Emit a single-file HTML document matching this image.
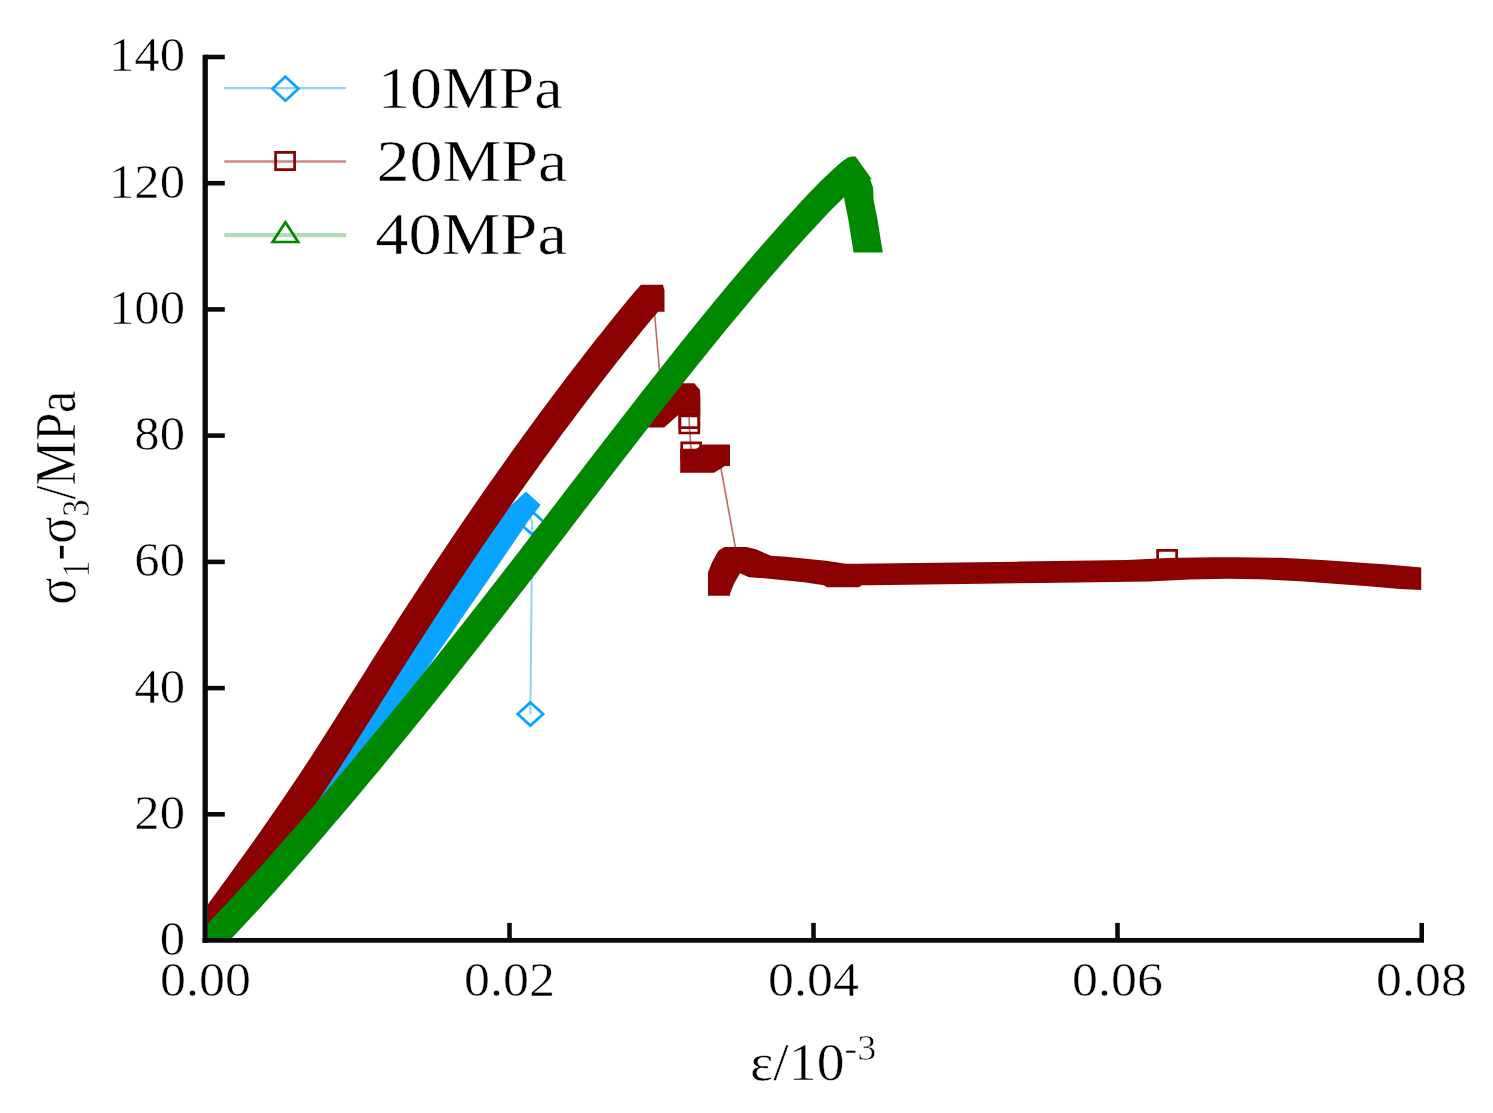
<!DOCTYPE html>
<html><head><meta charset="utf-8"><title>chart</title>
<style>html,body{margin:0;padding:0;background:#fff;}svg{display:block;}</style></head>
<body>
<svg width="1493" height="1113" viewBox="0 0 1493 1113">
<defs><clipPath id="cp"><rect x="208.0" y="57.0" width="1213.5" height="881.3"/></clipPath></defs>
<g clip-path="url(#cp)">
<polyline points="526.0,505.0 532.2,523.0 530.4,714.0" fill="none" stroke="#8fd2ff" stroke-width="2"/>
<path d="M312.4 787.1 L301.3 801.9 L290.3 816.5 L279.2 830.8 L268.2 845.0 L257.1 859.0 L246.1 872.8 L235.0 886.4 L224.0 899.7 L212.9 912.8 L208.0 918.5 L208.0 938.3 L220.1 938.3 L220.2 938.2 L231.3 925.6 L242.3 912.8 L253.4 899.7 L264.4 886.4 L275.5 872.8 L286.5 859.0 L297.6 845.0 L308.6 830.8 L319.7 816.5 L330.7 801.9 L341.8 787.1 L352.8 772.2 L363.9 757.1 L374.9 741.9 L386.0 726.6 L397.0 711.1 L408.1 695.5 L419.1 679.8 L430.2 664.0 L441.2 648.1 L452.3 632.2 L463.3 616.1 L474.4 600.1 L485.4 583.9 L496.5 567.8 L507.5 551.6 L518.6 535.3 L529.6 519.1 L540.7 505.0 L526.0 491.4 L511.3 505.0 L500.2 519.1 L489.2 535.3 L478.1 551.6 L467.1 567.8 L456.0 583.9 L445.0 600.1 L433.9 616.1 L422.9 632.2 L411.8 648.1 L400.8 664.0 L389.7 679.8 L378.7 695.5 L367.6 711.1 L356.6 726.6 L345.5 741.9 L334.5 757.1 L323.4 772.2Z" fill="#08a4ff"/>
<polygon points="532.2,511.4 544.9,523.0 532.2,534.6 519.5,523.0" fill="none" stroke="#08a4ff" stroke-width="2.7" stroke-linejoin="miter"/>
<polygon points="530.4,702.4 543.1,714.0 530.4,725.6 517.7,714.0" fill="none" stroke="#08a4ff" stroke-width="2.7" stroke-linejoin="miter"/>
<polyline points="651.9,294.9 653.5,301.0 659.6,372.0 653.2,416.7 688.8,400.0 689.3,424.4 691.2,451.4 719.0,455.2 721.1,469.0 735.3,547.0 719.0,585.0" fill="none" stroke="#c06a6a" stroke-width="1.6"/>
<path d="M656.8 393.0 L642.2 406.0 L642.2 427.4 L664.2 427.4 L678.8 414.4 L684.2 410.7 L699.8 410.7 L699.8 389.3 L698.2 388.0 L694.4 383.2 L672.4 383.2 L668.0 385.3Z M696.1 448.8 L680.2 448.8 L680.2 451.4 L680.2 472.8 L692.0 472.8 L702.2 472.8 L714.0 472.8 L725.0 465.9 L730.0 465.9 L730.0 444.5 L725.0 444.5 L703.0 444.5Z M708.0 574.3 L708.0 595.7 L730.0 595.7 L730.2 593.3 L734.0 583.7 L739.9 573.3 L749.0 577.2 L764.0 578.2 L804.0 582.2 L824.0 585.2 L827.0 587.2 L837.0 587.2 L849.0 587.2 L859.0 587.2 L861.8 585.3 L871.0 585.3 L1042.0 583.0 L1149.0 581.5 L1189.0 579.5 L1227.0 578.8 L1259.0 579.2 L1300.0 581.3 L1365.0 585.9 L1400.0 588.9 L1421.5 589.9 L1421.5 567.5 L1387.0 564.5 L1322.0 559.9 L1281.0 557.8 L1236.0 557.2 L1214.0 557.2 L1167.0 558.1 L1127.0 560.1 L1020.0 561.6 L856.4 563.8 L846.0 563.8 L826.0 560.8 L786.0 556.8 L771.0 555.8 L756.0 549.3 L746.5 547.0 L724.5 547.0 L718.6 550.6 L712.0 562.3 L708.2 571.9Z M274.3 811.6 L265.4 824.3 L256.6 836.9 L247.7 849.4 L238.8 861.7 L230.0 874.0 L221.1 886.2 L212.2 898.4 L208.0 904.2 L208.0 938.3 L220.7 938.3 L225.4 931.9 L234.2 919.8 L243.1 907.6 L252.0 895.4 L260.8 883.1 L269.7 870.8 L278.6 858.3 L287.4 845.7 L296.3 833.0 L305.2 820.0 L314.0 806.9 L322.9 793.6 L331.8 780.1 L340.6 766.4 L349.5 752.5 L358.4 738.5 L367.2 724.5 L376.1 710.4 L385.0 696.3 L393.8 682.2 L402.7 668.2 L411.6 654.3 L420.4 640.5 L429.3 626.7 L438.2 613.1 L447.1 599.6 L455.9 586.2 L464.8 572.9 L473.7 559.7 L482.5 546.6 L491.4 533.6 L500.3 520.7 L509.1 508.0 L518.0 495.3 L526.9 482.8 L535.7 470.4 L544.6 458.1 L553.5 445.9 L562.3 433.8 L571.2 421.9 L580.1 410.1 L588.9 398.4 L597.8 386.8 L606.7 375.3 L615.5 364.0 L624.4 352.8 L633.3 341.7 L642.1 330.8 L651.0 319.9 L658.1 311.7 L664.5 311.7 L664.5 290.3 L662.9 284.7 L640.9 284.7 L629.0 298.5 L620.1 309.4 L611.3 320.3 L602.4 331.4 L593.5 342.6 L584.7 353.9 L575.8 365.4 L566.9 377.0 L558.1 388.7 L549.2 400.5 L540.3 412.4 L531.5 424.5 L522.6 436.7 L513.7 449.0 L504.9 461.4 L496.0 473.9 L487.1 486.6 L478.3 499.3 L469.4 512.2 L460.5 525.2 L451.7 538.3 L442.8 551.5 L433.9 564.8 L425.1 578.2 L416.2 591.7 L407.3 605.3 L398.4 619.1 L389.6 632.9 L380.7 646.8 L371.8 660.8 L363.0 674.9 L354.1 689.0 L345.2 703.1 L336.4 717.1 L327.5 731.1 L318.6 745.0 L309.8 758.7 L300.9 772.2 L292.0 785.5 L283.2 798.6Z" fill="#8b0000"/>
<polygon points="679.8,392.9 698.8,392.9 698.8,410.1 679.8,410.1" fill="none" stroke="#8b0000" stroke-width="2.7" stroke-linejoin="miter"/>
<polygon points="679.8,395.7 698.8,395.7 698.8,412.9 679.8,412.9" fill="none" stroke="#8b0000" stroke-width="2.7" stroke-linejoin="miter"/>
<polygon points="679.8,398.2 698.8,398.2 698.8,415.4 679.8,415.4" fill="none" stroke="#8b0000" stroke-width="2.7" stroke-linejoin="miter"/>
<polygon points="679.8,410.4 698.8,410.4 698.8,427.6 679.8,427.6" fill="none" stroke="#8b0000" stroke-width="2.7" stroke-linejoin="miter"/>
<polygon points="679.8,415.8 698.8,415.8 698.8,433.0 679.8,433.0" fill="none" stroke="#8b0000" stroke-width="2.7" stroke-linejoin="miter"/>
<polygon points="681.7,442.8 700.7,442.8 700.7,460.0 681.7,460.0" fill="none" stroke="#8b0000" stroke-width="2.7" stroke-linejoin="miter"/>
<polygon points="1157.6,550.3 1176.6,550.3 1176.6,567.5 1157.6,567.5" fill="none" stroke="#8b0000" stroke-width="2.7" stroke-linejoin="miter"/>
<path d="M848.4 220.0 L851.2 237.8 L853.6 252.4 L882.8 252.4 L880.4 237.8 L877.6 220.0 L873.6 200.0 L873.1 187.8 L870.1 179.3 L871.8 179.3 L855.5 156.5 L851.5 156.6 L848.0 157.6 L843.8 160.2 L838.5 164.6 L833.0 169.5 L828.0 174.2 L822.4 179.6 L816.0 185.9 L810.0 192.1 L800.7 202.1 L791.4 212.2 L782.1 222.5 L772.8 232.9 L763.5 243.5 L754.2 254.2 L744.9 265.0 L735.6 276.0 L726.3 287.1 L717.0 298.3 L707.7 309.5 L698.4 320.9 L689.1 332.4 L679.8 344.0 L670.5 355.7 L661.2 367.4 L651.9 379.2 L642.6 391.0 L633.3 402.9 L624.0 414.9 L614.7 426.9 L605.4 438.9 L596.1 451.0 L586.8 463.1 L577.5 475.2 L568.2 487.3 L558.9 499.5 L549.6 511.6 L540.3 523.7 L531.0 535.8 L521.7 547.9 L512.4 560.0 L503.1 572.0 L493.8 584.0 L484.5 595.9 L475.2 607.8 L465.9 619.7 L456.6 631.5 L447.3 643.2 L438.0 654.9 L428.7 666.6 L419.4 678.2 L410.1 689.7 L400.8 701.2 L391.5 712.6 L382.2 724.0 L372.9 735.3 L363.6 746.6 L354.3 757.8 L345.0 768.9 L335.7 779.9 L326.4 790.9 L317.1 801.8 L307.8 812.7 L298.5 823.4 L289.2 834.1 L279.9 844.8 L270.6 855.3 L261.3 865.7 L252.0 876.0 L242.7 886.2 L233.4 896.3 L224.1 906.3 L214.8 916.1 L208.0 923.2 L208.0 938.3 L231.7 938.3 L240.4 929.1 L249.7 919.1 L259.0 909.0 L268.3 898.8 L277.6 888.5 L286.9 878.1 L296.2 867.6 L305.5 856.9 L314.8 846.2 L324.1 835.5 L333.4 824.6 L342.7 813.7 L352.0 802.7 L361.3 791.7 L370.6 780.6 L379.9 769.4 L389.2 758.1 L398.5 746.8 L407.8 735.4 L417.1 724.0 L426.4 712.5 L435.7 701.0 L445.0 689.4 L454.3 677.7 L463.6 666.0 L472.9 654.3 L482.2 642.5 L491.5 630.6 L500.8 618.7 L510.1 606.8 L519.4 594.8 L528.7 582.8 L538.0 570.7 L547.3 558.6 L556.6 546.5 L565.9 534.4 L575.2 522.3 L584.5 510.1 L593.8 498.0 L603.1 485.9 L612.4 473.8 L621.7 461.7 L631.0 449.7 L640.3 437.7 L649.6 425.7 L658.9 413.8 L668.2 402.0 L677.5 390.2 L686.8 378.5 L696.1 366.8 L705.4 355.2 L714.7 343.7 L724.0 332.3 L733.3 321.1 L742.6 309.9 L751.9 298.8 L761.2 287.8 L770.5 277.0 L779.8 266.3 L789.1 255.7 L798.4 245.3 L807.7 235.0 L817.0 224.9 L826.3 214.9 L832.3 208.7 L838.7 202.4 L844.3 197.0 L844.4 200.0Z" fill="#008800"/>
</g>
<g stroke="#0a0a0a" fill="none" stroke-linecap="butt">
<path d="M205.2 54.7 V942.7" stroke-width="5.3"/>
<path d="M202.6 940.3 H1424.0" stroke-width="4.7"/>
</g>
<g stroke="#0a0a0a" stroke-width="4.6" fill="none">
<path d="M205.5 814.3 H224.8"/>
<path d="M205.5 688.1 H224.8"/>
<path d="M205.5 561.9 H224.8"/>
<path d="M205.5 435.6 H224.8"/>
<path d="M205.5 309.4 H224.8"/>
<path d="M205.5 183.2 H224.8"/>
<path d="M205.5 57.0 H224.8"/>
<path d="M509.5 940.5 V922.9"/>
<path d="M813.5 940.5 V922.9"/>
<path d="M1117.5 940.5 V922.9"/>
<path d="M1421.7 940.5 V922.9"/>
</g>
<g font-family="'Liberation Serif', 'Times New Roman', serif" fill="#000" stroke="#fff" stroke-width="0.5" stroke-linejoin="round">
<text transform="translate(185.0,954.9) scale(1.078,1.035)" font-size="47" text-anchor="end">0</text>
<text transform="translate(185.0,828.7) scale(1.078,1.035)" font-size="47" text-anchor="end">20</text>
<text transform="translate(185.0,702.5) scale(1.078,1.035)" font-size="47" text-anchor="end">40</text>
<text transform="translate(185.0,576.3) scale(1.078,1.035)" font-size="47" text-anchor="end">60</text>
<text transform="translate(185.0,450.0) scale(1.078,1.035)" font-size="47" text-anchor="end">80</text>
<text transform="translate(185.0,323.8) scale(1.078,1.035)" font-size="47" text-anchor="end">100</text>
<text transform="translate(185.0,197.6) scale(1.078,1.035)" font-size="47" text-anchor="end">120</text>
<text transform="translate(185.0,71.4) scale(1.078,1.035)" font-size="47" text-anchor="end">140</text>
<text transform="translate(205.5,996.1) scale(1.105,1.04)" font-size="47" text-anchor="middle">0.00</text>
<text transform="translate(509.5,996.1) scale(1.105,1.04)" font-size="47" text-anchor="middle">0.02</text>
<text transform="translate(813.5,996.1) scale(1.105,1.04)" font-size="47" text-anchor="middle">0.04</text>
<text transform="translate(1117.5,996.1) scale(1.105,1.04)" font-size="47" text-anchor="middle">0.06</text>
<text transform="translate(1421.5,996.1) scale(1.105,1.04)" font-size="47" text-anchor="middle">0.08</text>
<text transform="translate(378.0,107.6) scale(1.066,1)" font-size="60">10MPa</text>
<text transform="translate(376.6,180.8) scale(1.1,1)" font-size="60">20MPa</text>
<text transform="translate(375.3,253.9) scale(1.105,1)" font-size="60">40MPa</text>
<text transform="translate(750,1080.2) scale(1.06,1)" font-size="52.5">ε/10<tspan font-size="36" dy="-20.5">-3</tspan></text>
<text transform="translate(75.3,604.8) rotate(-90) scale(0.957,1.098)" font-size="52.5">σ<tspan font-size="36" dy="12.5">1</tspan><tspan dy="-12.5">-σ</tspan><tspan font-size="36" dy="12.5">3</tspan><tspan dy="-12.5">/MPa</tspan></text>
</g>
<path d="M224.3 88.2 H346" stroke="#8fd2ff" stroke-width="2.2"/>
<polygon points="285.4,76.7 298.4,88.7 285.4,100.7 272.4,88.7" fill="none" stroke="#08a4ff" stroke-width="2.7" stroke-linejoin="miter"/>
<path d="M224.3 161.5 H346" stroke="#c98a8a" stroke-width="2.6"/>
<polygon points="275.6,152.4 294.6,152.4 294.6,169.6 275.6,169.6" fill="none" stroke="#8b0000" stroke-width="2.7" stroke-linejoin="miter"/>
<path d="M224.3 235.1 H346" stroke="#b4dbb4" stroke-width="4.2"/>
<polygon points="285.4,222.2 298.2,242.0 272.6,242.0" fill="none" stroke="#008800" stroke-width="2.7" stroke-linejoin="miter"/>
</svg>
</body></html>
